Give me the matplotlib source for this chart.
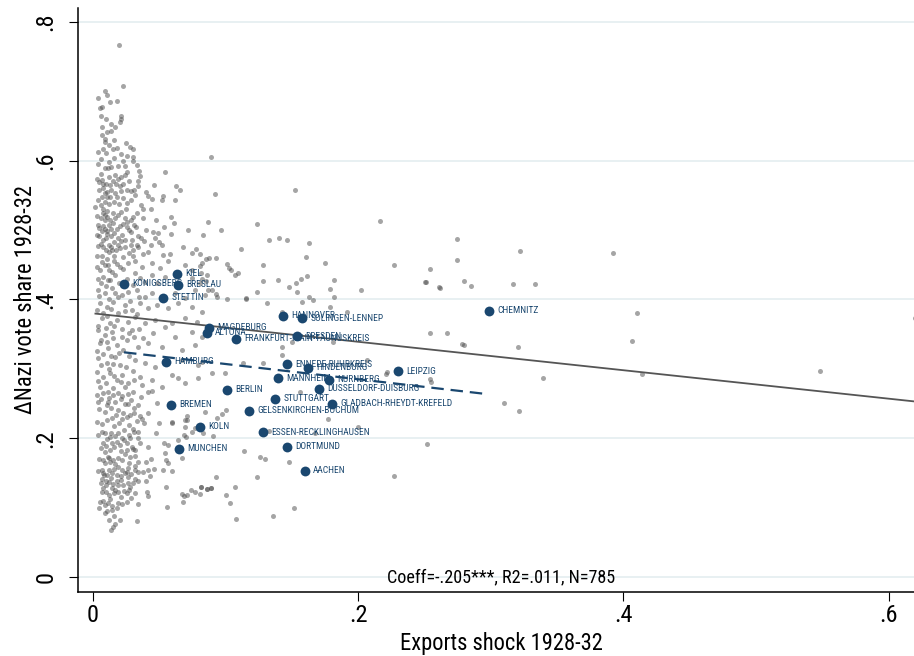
import numpy as np
import matplotlib
matplotlib.use("Agg")
import matplotlib.pyplot as plt
from matplotlib import font_manager as fm


def pick_narrow_font():
    """Prefer a narrow/condensed sans face; fall back to Liberation Sans."""
    entries = fm.fontManager.ttflist
    names = {f.name for f in entries}
    for n in ["Liberation Sans Narrow", "Arial Narrow", "Roboto Condensed",
              "Open Sans Condensed", "Noto Sans Condensed", "DejaVu Sans Condensed"]:
        if n in names:
            return n, "normal"
    for fam in ["Noto Sans", "Roboto", "Open Sans", "DejaVu Sans"]:
        for f in entries:
            if (f.name == fam and str(f.stretch) in ("condensed", "semi-condensed")
                    and f.style == "normal" and str(f.weight) in ("400", "normal", "regular")):
                return fam, str(f.stretch)
    return "Liberation Sans", "normal"


FONT, STRETCH = pick_narrow_font()
plt.rcParams["font.family"] = [FONT, "Liberation Sans", "DejaVu Sans"]
plt.rcParams["font.stretch"] = STRETCH

# ---- counties: exports shock (x) vs change in Nazi vote share (y) ----
county_x = [
    0.020, 0.023, 0.009, 0.013, 0.018, 0.007, 0.0055, 0.006, 0.021, 0.021, 0.0206, 0.007, 0.014, 0.011, 0.0136,
    0.007, 0.009, 0.009, 0.008, 0.015, 0.0185, 0.025, 0.028, 0.030, 0.021, 0.0256, 0.0306, 0.023, 0.0334, 0.089,
    0.009, 0.0115, 0.014, 0.0244, 0.006, 0.0166, 0.021, 0.024, 0.0256, 0.0357, 0.0545, 0.0045, 0.008, 0.010, 0.013,
    0.0176, 0.0206, 0.0344, 0.0344, 0.011, 0.009, 0.0256, 0.029, 0.031, 0.046, 0.063, 0.066, 0.092, 0.007, 0.0105,
    0.013, 0.018, 0.0226, 0.0286, 0.042, 0.0445, 0.053, 0.052, 0.062, 0.002, 0.006, 0.008, 0.0105, 0.0075, 0.009,
    0.006, 0.009, 0.015, 0.021, 0.025, 0.036, 0.0377, 0.033, 0.0306, 0.029, 0.026, 0.023, 0.0206, 0.048, 0.059,
    0.0615, 0.087, 0.124, 0.072, 0.097, 0.0045, 0.007, 0.009, 0.011, 0.0136, 0.018, 0.027, 0.029, 0.0326, 0.0457,
    0.049, 0.054, 0.059, 0.083, 0.005, 0.0075, 0.010, 0.0136, 0.016, 0.019, 0.021, 0.024, 0.0296, 0.033, 0.036,
    0.039, 0.050, 0.052, 0.068, 0.078, 0.075, 0.112, 0.133, 0.006, 0.008, 0.010, 0.0125, 0.0148, 0.0176, 0.0206,
    0.024, 0.027, 0.0306, 0.034, 0.042, 0.053, 0.058, 0.081, 0.088, 0.093,
    0.0068, 0.0118, 0.0163, 0.0206, 0.0055, 0.0143, 0.0269, 0.0319, 0.0369, 0.0445, 0.0508, 0.057, 0.0696, 0.0746, 0.0822,
    0.008, 0.0118, 0.0168, 0.0319, 0.0357, 0.0394, 0.0445, 0.0482, 0.0545, 0.0746, 0.081, 0.086,
    0.0043, 0.0093, 0.0143, 0.0193, 0.0269, 0.0332, 0.0394, 0.0445, 0.062, 0.0696, 0.0771, 0.0847,
    0.0055, 0.0106, 0.0156, 0.0244, 0.0294, 0.0357, 0.042, 0.0482, 0.057, 0.0646, 0.0746, 0.0822,
    0.0068, 0.013, 0.018, 0.0269, 0.0319, 0.0394, 0.047, 0.0595, 0.0696, 0.0784,
    0.0043, 0.0093, 0.0143, 0.0219, 0.0294, 0.0382, 0.0457, 0.0545, 0.062, 0.0746, 0.0822,
    0.0055, 0.0118, 0.018, 0.0231, 0.0344, 0.042, 0.052, 0.067, 0.0771,
    0.0043, 0.0106, 0.0168, 0.0206, 0.0319, 0.0394, 0.047, 0.067, 0.0796,
    0.003, 0.008, 0.013, 0.018, 0.0219, 0.0269, 0.0357, 0.0445, 0.052, 0.0595, 0.0696, 0.0796, 0.0055, 0.0156, 0.0244,
    0.008, 0.0118, 0.0156, 0.0193, 0.0224, 0.0264, 0.0307, 0.042, 0.0445,
    0.0043, 0.0106, 0.0113, 0.0244, 0.0264, 0.0344, 0.0482,
    0.0173, 0.0148, 0.0219, 0.0256, 0.0281, 0.0314, 0.0357, 0.0369, 0.0415, 0.050, 0.060, 0.0696, 0.0709, 0.0696,
    0.0068, 0.0093, 0.013, 0.0188, 0.0239, 0.0307, 0.0314, 0.0344, 0.039, 0.0477, 0.0535, 0.0646, 0.0686, 0.0701, 0.0746, 0.0771, 0.0834,
    0.008, 0.0143, 0.018, 0.0206, 0.0239, 0.0256, 0.0281, 0.0294, 0.0319, 0.0357, 0.042, 0.0565, 0.0676,
    0.0093, 0.0113, 0.008, 0.013, 0.0168, 0.0188, 0.0224, 0.0256, 0.0281, 0.0319, 0.0344, 0.040, 0.044, 0.0555, 0.0565,
    0.0068, 0.0088, 0.0123, 0.0143, 0.018, 0.0219, 0.0256, 0.0269, 0.0319, 0.0344, 0.0382, 0.042, 0.046, 0.0528, 0.060, 0.0435,
    0.0068, 0.0098, 0.0138, 0.0156, 0.0188, 0.0214, 0.0264, 0.0264, 0.0281, 0.0319, 0.0344, 0.040,
    0.008, 0.0098, 0.0143, 0.0168, 0.0193, 0.0239, 0.0256, 0.0319, 0.0407, 0.042, 0.0553, 0.0671, 0.0691, 0.0709, 0.0741, 0.0771, 0.081, 0.0817, 0.086, 0.0892,
    0.0055, 0.0093, 0.0118, 0.0143, 0.0193, 0.0256, 0.0289, 0.0344, 0.0558, 0.0684,
    0.0093, 0.0143, 0.0206, 0.0168, 0.0156, 0.0138, 0.0332,
    0.1525, 0.2166, 0.2746, 0.2746, 0.1407, 0.1467, 0.163, 0.0854, 0.1606, 0.1751, 0.2271, 0.2543,
    0.1015, 0.1028, 0.104, 0.107, 0.1098, 0.1286, 0.0809, 0.0817, 0.0824, 0.128, 0.1395, 0.148, 0.153, 0.154,
    0.1568, 0.1613, 0.182, 0.179, 0.182, 0.2024, 0.2508, 0.2611, 0.1241, 0.163, 0.1153, 0.1153, 0.101,
    0.0854, 0.0872, 0.0897, 0.093, 0.094,
    0.0844, 0.0935, 0.0972, 0.1003, 0.0905, 0.1563, 0.1772, 0.1676, 0.1327, 0.2003, 0.2518, 0.1143, 0.1264, 0.1302,
    0.1482, 0.0932, 0.1236, 0.2274, 0.0814, 0.0859, 0.0892, 0.1075, 0.1005, 0.1033, 0.152, 0.1357, 0.1083,
    0.2511, 0.2617, 0.2797, 0.2851, 0.3168, 0.3331, 0.410, 0.620, 0.2545, 0.2672, 0.2797, 0.3204, 0.4063,
    0.221, 0.255, 0.3396, 0.4144, 0.548, 0.310, 0.3212, 0.322, 0.392,
    0.1312, 0.1663, 0.1789, 0.1915, 0.1425, 0.1576,
    0.278, 0.254, 0.2216, 0.143, 0.150, 0.0997, 0.0897, 0.0822, 0.1135, 0.1286, 0.0645, 0.0545, 0.0709, 0.0596,
    0.1425, 0.1814, 0.2066,
    # dense column of low-shock counties
    0.004, 0.006, 0.010, 0.012, 0.016, 0.019, 0.003, 0.007, 0.012, 0.015, 0.019, 0.023, 0.027, 0.005, 0.008,
    0.014, 0.017, 0.021, 0.032, 0.004, 0.009, 0.012, 0.016, 0.020, 0.026, 0.003, 0.011, 0.013, 0.017, 0.019,
    0.024, 0.004, 0.008, 0.012, 0.015, 0.026, 0.031, 0.003, 0.011, 0.016, 0.022, 0.034, 0.004, 0.012, 0.014,
    0.019, 0.029, 0.003, 0.007, 0.011, 0.016, 0.023, 0.030, 0.038, 0.044, 0.047, 0.040, 0.038, 0.044, 0.040,
    0.035, 0.030, 0.016, 0.012, 0.004, 0.017, 0.010, 0.004, 0.011,
    0.003, 0.009, 0.012, 0.018, 0.023, 0.004, 0.006, 0.010, 0.013, 0.020, 0.026, 0.030, 0.005, 0.012, 0.017,
    0.022, 0.028, 0.035, 0.003, 0.008, 0.011, 0.014, 0.019, 0.024, 0.033, 0.004, 0.010, 0.016, 0.022, 0.027,
    0.035, 0.006, 0.011, 0.015, 0.026, 0.031, 0.003, 0.008, 0.014, 0.020, 0.027, 0.006, 0.012, 0.015, 0.025,
    0.030, 0.004, 0.010, 0.016, 0.021, 0.031, 0.037,
    0.003, 0.006, 0.012, 0.017, 0.021, 0.029, 0.036, 0.005, 0.009, 0.014, 0.019, 0.023, 0.031, 0.003, 0.007,
    0.011, 0.016, 0.020, 0.027, 0.033, 0.004, 0.011, 0.014, 0.017, 0.022, 0.027, 0.034, 0.006, 0.010, 0.013,
    0.016, 0.021, 0.024, 0.030, 0.005, 0.009, 0.012, 0.015, 0.019, 0.027, 0.032, 0.004, 0.008, 0.011, 0.016,
    0.021, 0.024, 0.029, 0.006, 0.010, 0.012, 0.018, 0.023, 0.030, 0.007, 0.012, 0.016, 0.021, 0.027, 0.008,
    0.013, 0.018, 0.022, 0.011, 0.016, 0.005, 0.012,
]
county_y = [
    0.766, 0.707, 0.700, 0.685, 0.686, 0.678, 0.676, 0.665, 0.664, 0.660, 0.655, 0.649, 0.653, 0.642, 0.643,
    0.637, 0.631, 0.627, 0.617, 0.617, 0.618, 0.626, 0.620, 0.617, 0.609, 0.607, 0.605, 0.599, 0.594, 0.605,
    0.589, 0.590, 0.591, 0.593, 0.581, 0.579, 0.577, 0.579, 0.583, 0.578, 0.584, 0.569, 0.567, 0.566, 0.565,
    0.566, 0.564, 0.571, 0.564, 0.555, 0.553, 0.558, 0.556, 0.557, 0.565, 0.564, 0.558, 0.552, 0.548, 0.547,
    0.547, 0.548, 0.546, 0.544, 0.549, 0.545, 0.549, 0.543, 0.544, 0.533, 0.536, 0.531, 0.527, 0.525, 0.521,
    0.517, 0.514, 0.525, 0.526, 0.530, 0.536, 0.530, 0.524, 0.519, 0.514, 0.511, 0.509, 0.506, 0.514, 0.519,
    0.510, 0.512, 0.509, 0.500, 0.500, 0.503, 0.499, 0.502, 0.499, 0.502, 0.502, 0.500, 0.497, 0.504, 0.497,
    0.496, 0.505, 0.494, 0.493, 0.491, 0.486, 0.488, 0.491, 0.483, 0.488, 0.484, 0.486, 0.486, 0.478, 0.488,
    0.484, 0.483, 0.479, 0.475, 0.472, 0.467, 0.473, 0.485, 0.480, 0.475, 0.471, 0.469, 0.471, 0.471, 0.474,
    0.476, 0.467, 0.471, 0.476, 0.469, 0.464, 0.465, 0.465, 0.460, 0.460,
    0.4546, 0.450, 0.456, 0.447, 0.4426, 0.440, 0.452, 0.456, 0.447, 0.452, 0.445, 0.456, 0.450, 0.4426, 0.452,
    0.433, 0.428, 0.4354, 0.438, 0.4306, 0.4258, 0.4354, 0.4233, 0.433, 0.4306, 0.4233, 0.4354,
    0.4138, 0.409, 0.416, 0.404, 0.411, 0.4138, 0.404, 0.409, 0.409, 0.4017, 0.4138, 0.4065,
    0.3945, 0.3897, 0.397, 0.392, 0.385, 0.3955, 0.3873, 0.392, 0.3873, 0.3945, 0.3897, 0.3825,
    0.373, 0.3657, 0.3705, 0.368, 0.3753, 0.3657, 0.3705, 0.3657, 0.373, 0.368,
    0.3556, 0.349, 0.3537, 0.3465, 0.3556, 0.344, 0.3513, 0.360, 0.3465, 0.3537, 0.3465,
    0.3369, 0.3296, 0.3345, 0.3272, 0.332, 0.3369, 0.332, 0.3272, 0.3345,
    0.3152, 0.308, 0.3176, 0.3056, 0.3128, 0.308, 0.303, 0.3128, 0.3056,
    0.296, 0.2887, 0.2936, 0.284, 0.291, 0.2792, 0.2887, 0.284, 0.2744, 0.291, 0.2792, 0.2864, 0.2744, 0.272, 0.2744,
    0.265, 0.267, 0.2624, 0.2657, 0.261, 0.2638, 0.267, 0.267, 0.2686,
    0.2528, 0.248, 0.2528, 0.2494, 0.2494, 0.248, 0.2513,
    0.2335, 0.2287, 0.2273, 0.230, 0.2335, 0.237, 0.232, 0.2273, 0.237, 0.2215, 0.2225, 0.2165, 0.2319, 0.2263,
    0.2095, 0.207, 0.2023, 0.208, 0.2119, 0.2129, 0.2095, 0.2095, 0.2225, 0.207, 0.1927, 0.1975, 0.2047, 0.2013, 0.2095, 0.2143, 0.2070,
    0.1927, 0.1927, 0.195, 0.190, 0.1975, 0.1936, 0.1999, 0.1879, 0.183, 0.1927, 0.1879, 0.190, 0.1711,
    0.1807, 0.1735, 0.1687, 0.1663, 0.1629, 0.171, 0.1687, 0.1830, 0.1735, 0.1744, 0.1663, 0.1663, 0.1696, 0.1687, 0.1648,
    0.1542, 0.147, 0.1542, 0.1494, 0.147, 0.1542, 0.1518, 0.1566, 0.1542, 0.1518, 0.1518, 0.1542, 0.1552, 0.1542, 0.1533, 0.1456,
    0.1408, 0.1389, 0.1422, 0.134, 0.1326, 0.1398, 0.1437, 0.136, 0.1293, 0.1408, 0.1389, 0.1389,
    0.1278, 0.123, 0.1278, 0.1254, 0.123, 0.1245, 0.1206, 0.1206, 0.123, 0.1168, 0.1293, 0.1196, 0.1168, 0.1182, 0.1254, 0.123, 0.1196, 0.1293, 0.1264, 0.1278,
    0.1086, 0.1038, 0.1062, 0.1024, 0.1072, 0.1086, 0.1134, 0.1052, 0.1014, 0.1086,
    0.0927, 0.0966, 0.0822, 0.0764, 0.0726, 0.0678, 0.0812,
    0.5574, 0.5127, 0.4877, 0.457, 0.4887, 0.4853, 0.4815, 0.458, 0.4613, 0.4522, 0.4498, 0.4445,
    0.4512, 0.4459, 0.4426, 0.4354, 0.4378, 0.4493, 0.4483, 0.4387, 0.4296, 0.4267, 0.4277, 0.4176, 0.4234, 0.4113,
    0.4296, 0.4339, 0.4277, 0.4157, 0.4036, 0.4133, 0.4258, 0.418, 0.4104, 0.4032, 0.4017, 0.4003, 0.400,
    0.4267, 0.4142, 0.4133, 0.408, 0.4032,
    0.2374, 0.2287, 0.2345, 0.2412, 0.2028, 0.2662, 0.2278, 0.2071, 0.211, 0.2162, 0.1917, 0.1816, 0.173, 0.1696,
    0.1658, 0.1446, 0.1442, 0.1451, 0.1293, 0.1264, 0.1283, 0.1293, 0.1177, 0.1067, 0.099, 0.0875, 0.0831,
    0.4257, 0.4172, 0.4267, 0.4196, 0.4226, 0.4226, 0.380, 0.373, 0.3511, 0.3521, 0.3338, 0.3308, 0.3397,
    0.2926, 0.2812, 0.2871, 0.293, 0.2975, 0.2504, 0.239, 0.470, 0.467,
    0.3945, 0.399, 0.3896, 0.3824, 0.3824, 0.3968,
    0.336, 0.286, 0.296, 0.320, 0.339, 0.2936, 0.2936, 0.3104, 0.308, 0.308, 0.2864, 0.1783, 0.2263, 0.2239,
    0.332, 0.339, 0.3128,
    # dense column of low-shock counties
    0.595, 0.603, 0.611, 0.598, 0.604, 0.592, 0.574, 0.572, 0.576, 0.570, 0.573, 0.567, 0.571, 0.558, 0.560,
    0.558, 0.553, 0.556, 0.551, 0.543, 0.540, 0.538, 0.541, 0.537, 0.539, 0.520, 0.519, 0.514, 0.517, 0.521,
    0.518, 0.508, 0.506, 0.508, 0.510, 0.504, 0.507, 0.493, 0.494, 0.496, 0.493, 0.491, 0.477, 0.479, 0.476,
    0.479, 0.479, 0.462, 0.463, 0.459, 0.462, 0.461, 0.463, 0.466, 0.478, 0.488, 0.500, 0.518, 0.530, 0.555,
    0.585, 0.600, 0.630, 0.622, 0.612, 0.648, 0.660, 0.690, 0.695,
    0.447, 0.449, 0.443, 0.451, 0.444, 0.430, 0.424, 0.419, 0.428, 0.423, 0.430, 0.421, 0.405, 0.401, 0.410,
    0.407, 0.398, 0.403, 0.385, 0.380, 0.376, 0.386, 0.380, 0.383, 0.379, 0.362, 0.359, 0.362, 0.358, 0.352,
    0.357, 0.342, 0.339, 0.344, 0.341, 0.346, 0.325, 0.321, 0.318, 0.323, 0.319, 0.305, 0.300, 0.307, 0.302,
    0.297, 0.283, 0.279, 0.290, 0.281, 0.284, 0.276,
    0.262, 0.256, 0.258, 0.252, 0.257, 0.255, 0.259, 0.242, 0.238, 0.244, 0.240, 0.236, 0.243, 0.224, 0.220,
    0.226, 0.217, 0.222, 0.219, 0.225, 0.204, 0.199, 0.208, 0.203, 0.201, 0.205, 0.200, 0.186, 0.189, 0.183,
    0.187, 0.181, 0.177, 0.184, 0.170, 0.164, 0.172, 0.168, 0.159, 0.165, 0.160, 0.153, 0.150, 0.147, 0.155,
    0.146, 0.150, 0.148, 0.136, 0.132, 0.137, 0.139, 0.133, 0.135, 0.122, 0.118, 0.121, 0.116, 0.126, 0.110,
    0.113, 0.100, 0.105, 0.095, 0.088, 0.100, 0.082,
]

# ---- large cities ----
cities = ["KIEL", "KONIGSBERG", "BRESLAU", "STETTIN", "HANNOVER", "SOLINGEN-LENNEP",
          "MAGDEBURG", "ALTONA", "FRANKFURT-MAIN-TAUNUSKREIS", "DRESDEN", "HAMBURG",
          "ENNEPE-RUHRKREIS", "HINDENBURG", "LEIPZIG", "MANNHEIM", "NURNBERG", "BERLIN",
          "DUSSELDORF-DUISBURG", "STUTTGART", "GLADBACH-RHEYDT-KREFELD", "BREMEN",
          "GELSENKIRCHEN-BOCHUM", "KOLN", "ESSEN-RECKLINGHAUSEN", "MUNCHEN", "DORTMUND",
          "AACHEN", "CHEMNITZ"]
city_x = [0.0636, 0.0236, 0.0641, 0.0532, 0.1435, 0.158, 0.0879, 0.0859, 0.108, 0.1538,
          0.0555, 0.1463, 0.1625, 0.2304, 0.1399, 0.1781, 0.101, 0.1708, 0.1374, 0.1806,
          0.0588, 0.1176, 0.0809, 0.1282, 0.0653, 0.1463, 0.160, 0.2986]
city_y = [0.4372, 0.4223, 0.4209, 0.4026, 0.3762, 0.3729, 0.3594, 0.3521, 0.3431, 0.347,
          0.3103, 0.3066, 0.3017, 0.2965, 0.2864, 0.2844, 0.270, 0.271, 0.2566, 0.2494,
          0.2479, 0.2393, 0.2162, 0.2086, 0.1845, 0.1878, 0.1528, 0.3834]

# linear fits: all counties (solid) and cities only (dashed)
fit_all = (0.380, -0.205)
fit_city = (0.329, -0.22)

NAVY = "#1a476f"
GRID = "#e6eff1"

fig = plt.figure(figsize=(9.14, 6.56), dpi=100)
renderer = fig.canvas.get_renderer()


def size_for_width(text, target_px, base=20.0):
    t = fig.text(0, 0, text, fontsize=base)
    w = t.get_window_extent(renderer).width
    t.remove()
    return base * target_px / w


SZ_LABEL = size_for_width("Exports shock 1928-32", 203)
SZ_NOTE = size_for_width("Coeff=-.205***, R2=.011, N=785", 228)
SZ_CITY = size_for_width("CHEMNITZ", 41)
SZ_TICK = SZ_LABEL * 1.08

ax = fig.add_axes([77.5 / 914, 64 / 656, (924.5 - 77.5) / 914, 584 / 656])
ax.set_xlim(-0.0115, 0.627)
ax.set_ylim(-0.0216, 0.820)

yt = [0, 0.2, 0.4, 0.6, 0.8]
for v in yt:
    ax.axhline(v, color=GRID, lw=1.3, zorder=0)

ax.scatter(county_x, county_y, s=13, color="#4d4d4d", alpha=0.5, linewidths=0, zorder=2)

xs = np.array([min(county_x), max(county_x)])
ax.plot(xs, fit_all[0] + fit_all[1] * xs, color="#555555", lw=1.3, zorder=3)
xc = np.array([min(city_x), max(city_x)])
ax.plot(xc, fit_city[0] + fit_city[1] * xc, color=NAVY, lw=1.6, dashes=(5.6, 3.1), zorder=3)

ax.scatter(city_x, city_y, s=50, color=NAVY, linewidths=0, zorder=4)
for name, cx, cy in zip(cities, city_x, city_y):
    ax.annotate(name, (cx, cy), xytext=(6, 0), textcoords="offset points",
                ha="left", va="center", fontsize=SZ_CITY, color=NAVY, zorder=5)

ax.annotate("Coeff=-.205***, R2=.011, N=785", xy=(0.5, 0.0), xycoords=("axes fraction", "data"),
            ha="center", va="center", fontsize=SZ_NOTE, zorder=6)

ax.set_yticks(yt)
ax.set_yticklabels(["0", ".2", ".4", ".6", ".8"], rotation=90, va="center")
ax.set_xticks([0, 0.2, 0.4, 0.6])
ax.set_xticklabels(["0", ".2", ".4", ".6"])
ax.tick_params(axis="both", direction="out", length=6.5, width=0.8, labelsize=SZ_TICK, color="black")
ax.tick_params(axis="y", pad=8)
ax.tick_params(axis="x", pad=2)

for side in ["top", "right"]:
    ax.spines[side].set_visible(False)
for side in ["left", "bottom"]:
    ax.spines[side].set_linewidth(1.1)

ax.set_xlabel("Exports shock 1928-32", fontsize=SZ_LABEL, labelpad=4)
ax.set_ylabel("ΔNazi vote share 1928-32", fontsize=SZ_LABEL, labelpad=-2)

fig.savefig("out.png", dpi=100)
